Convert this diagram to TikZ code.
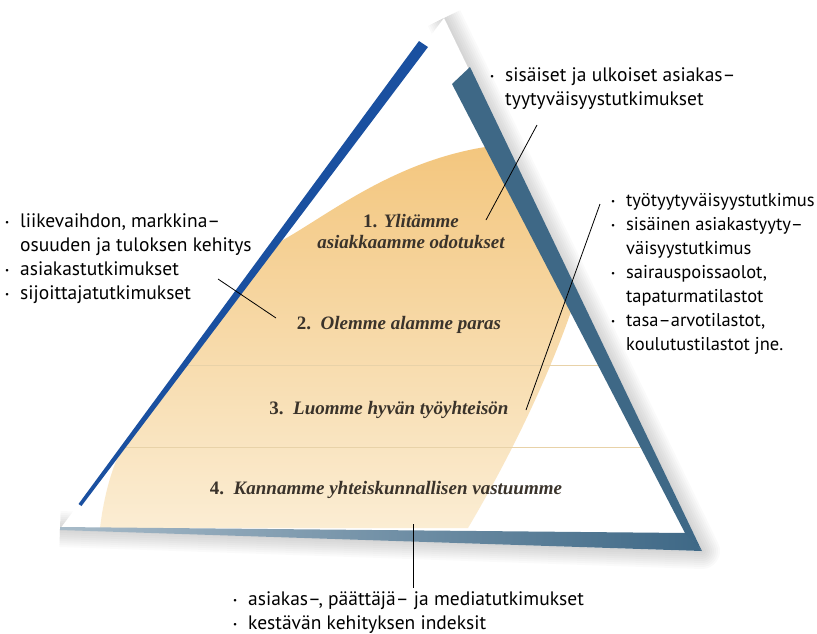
\documentclass[tikz,border=0pt]{standalone}
\usepackage{fontspec}
\setmainfont{Liberation Serif}
\newfontfamily\notefont{PT Sans}
\usepackage{xcolor}
\usepackage{tikz}

\definecolor{royal}{HTML}{1A50A0}
\definecolor{steel}{HTML}{3E6886}
\definecolor{sand}{HTML}{F3C67E}
\definecolor{sandpale}{HTML}{FBEDD3}
\definecolor{rulecol}{HTML}{E8D2A8}
\definecolor{ink}{HTML}{3A332B}

\newcommand{\bul}{\makebox[15pt][l]{\raisebox{2pt}{\fontsize{9}{9}\selectfont •}}}
\newcommand{\ind}{\hspace*{15pt}}

\begin{document}
\begin{tikzpicture}[x=1pt,y=-1pt,
    level/.style={text=ink, font=\fontsize{19}{21}\selectfont\bfseries\itshape, align=center},
    note/.style={font=\notefont\fontsize{19.5}{24}\selectfont, align=left, inner sep=0pt, anchor=north west},
    lead/.style={black, line width=0.8pt}]
    \useasboundingbox (0,0) rectangle (817,633);

    % soft shadow along right side and bottom
    \foreach \w in {4,8,...,36}
        \draw[black, opacity=0.02, line width=\w pt, line join=round] (444,18) -- (702,551) -- (60,529);
    \fill[white] (444,18) -- (702,551) -- (60,529) -- cycle;

    % sand coloured body
    \shade[top color=sand, bottom color=sandpale]
        (273.5,245) .. controls (320,222) and (390,160) .. (492,146)
        -- (575,300) .. controls (555,360) and (520,440) .. (468,528)
        -- (100,528) .. controls (104,495) and (112,468) .. (121,450) -- cycle;

    % level dividers
    \draw[rulecol, line width=0.8pt] (183,365) -- (598,365);
    \draw[rulecol, line width=0.8pt] (121,447) -- (641,447);

    % frame
    \fill[royal] (419,41) -- (428,47) -- (81.5,506) -- (78.5,504) -- cycle;
    \shade[left color=steel!45, middle color=steel!95, right color=steel]
        (60,527) -- (686,533) -- (702,551) -- (60,530) -- cycle;
    \fill[steel] (452,84) -- (470,67) -- (702,551) -- (685,533) -- cycle;

    % levels
    \node[level] (lvl1) at (411,232) {{\upshape 1.} Ylitämme\\asiakkaamme odotukset};
    \node[level] (lvl2) at (399,325) {{\upshape 2.}~~Olemme alamme paras};
    \node[level] (lvl3) at (389,410) {{\upshape 3.}~~Luomme hyvän työyhteisön};
    \node[level] (lvl4) at (386,490) {{\upshape 4.}~~Kannamme yhteiskunnallisen vastuumme};

    % notes
    \node[note] (top) at (490,67) {\bul sisäiset ja ulkoiset asiakas–\\
        \ind tyytyväisyystutkimukset};
    \node[note] (left) at (5,213) {\bul liikevaihdon, markkina–\\
        \ind osuuden ja tuloksen kehitys\\
        \bul asiakastutkimukset\\
        \bul sijoittajatutkimukset};
    \node[note, font=\notefont\fontsize{18.5}{24}\selectfont] (right) at (611,193) {\bul työtyytyväisyystutkimus\\
        \bul sisäinen asiakastyyty–\\
        \ind väisyystutkimus\\
        \bul sairauspoissaolot,\\
        \ind tapaturmatilastot\\
        \bul tasa–arvotilastot,\\
        \ind koulutustilastot jne.};
    \node[note] (bottom) at (233,591) {\bul asiakas–, päättäjä– ja mediatutkimukset\\
        \bul kestävän kehityksen indeksit};

    % leaders
    \coordinate (topend) at (537,125);
    \coordinate (lvl1end) at (486,220);
    \coordinate (leftend) at (218,279);
    \coordinate (lvl2end) at (276,318);
    \coordinate (rightend) at (600,204);
    \coordinate (lvl3end) at (526,410);
    \coordinate (baseend) at (413,524);
    \coordinate (bottomend) at (413,588);
    \draw[lead] (topend) -- (lvl1end);
    \draw[lead] (leftend) -- (lvl2end);
    \draw[lead] (rightend) -- (lvl3end);
    \draw[lead] (baseend) -- (bottomend);
\end{tikzpicture}
\end{document}
